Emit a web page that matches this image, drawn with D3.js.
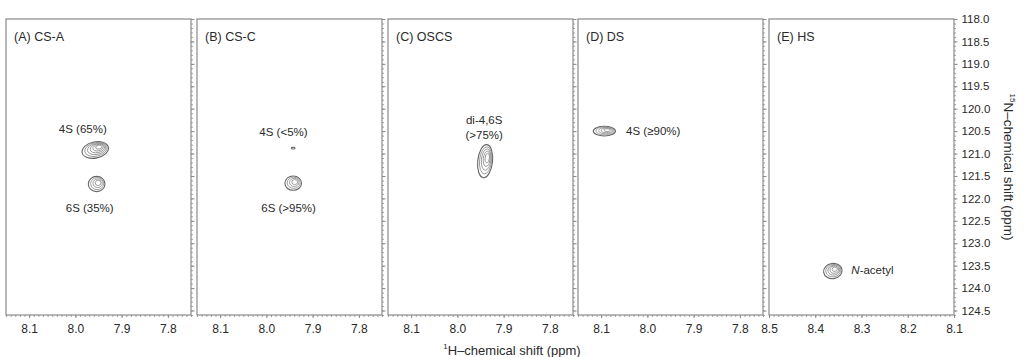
<!DOCTYPE html>
<html>
<head>
<meta charset="utf-8">
<script src="https://cdn.jsdelivr.net/npm/d3@7"></script>
<style>
  html, body { margin: 0; padding: 0; background: #fff; }
  svg { display: block; font-family: "Liberation Sans", Arial, sans-serif; }
</style>
</head>
<body>
<div id="container"></div>
<script>
const width = 1024;
const height = 357;

// panels and their 1H windows (ppm, left -> right)
const panelNames = ["(A) CS-A", "(B) CS-C", "(C) OSCS", "(D) DS", "(E) HS"];
const hDomains = [[8.15, 7.75], [8.15, 7.75], [8.15, 7.75], [8.15, 7.75], [8.5, 8.1]];
const hTicks = [[8.1, 8.0, 7.9, 7.8], [8.1, 8.0, 7.9, 7.8], [8.1, 8.0, 7.9, 7.8], [8.1, 8.0, 7.9, 7.8], [8.5, 8.4, 8.3, 8.2, 8.1]];
const nDomain = [118.0, 124.6];
const nTicks = [118.0, 118.5, 119.0, 119.5, 120.0, 120.5, 121.0, 121.5, 122.0, 122.5, 123.0, 123.5, 124.0, 124.5];

// peaks: panel, 1H ppm, 15N ppm, half widths (ppm), contour rings, tilt
const peakPanel = [0, 0, 1, 1, 2, 3, 4];
const peakH     = [7.957, 7.954, 7.942, 7.942, 7.940, 8.093, 8.362];
const peakN     = [120.92, 121.68, 120.88, 121.66, 121.17, 120.50, 123.62];
const peakWH    = [0.029, 0.018, 0.004, 0.018, 0.016, 0.024, 0.020];
const peakWN    = [0.18, 0.17, 0.02, 0.16, 0.37, 0.11, 0.17];
const peakRings = [6, 4, 1, 4, 5, 5, 5];
const peakTilt  = [-12, 0, 0, 0, 6, 0, -8];

// labels: panel, text lines, 1H ppm, 15N ppm, anchor
const labelPanel = [0, 0, 1, 1, 2, 3, 4];
const labelText  = [["4S (65%)"], ["6S (35%)"], ["4S (<5%)"], ["6S (>95%)"], ["di-4,6S", "(>75%)"], ["4S (\u226590%)"], ["N-acetyl"]];
const labelH     = [7.984, 7.969, 7.963, 7.952, 7.942, 8.046, 8.322];
const labelN     = [120.47, 122.23, 120.55, 122.23, 120.28, 120.51, 123.62];
const labelAnchor = ["middle", "middle", "middle", "middle", "middle", "start", "start"];

const panelLeft = [6, 197, 388, 578, 769];
const panelW = 185;
const plotTop = 19, plotBottom = 315;
const frameColor = "#8a8a8a";
const textColor = "#2a2a2a";

const svg = d3.create("svg")
  .attr("width", width)
  .attr("height", height);

const y = d3.scaleLinear().domain(nDomain).range([plotTop, plotBottom]);

panelNames.forEach((name, i) => {
  const x = d3.scaleLinear().domain(hDomains[i]).range([panelLeft[i], panelLeft[i] + panelW]);
  const g = svg.append("g").attr("class", "panel");

  // minor ticks bottom (0.01 ppm)
  const minorH = d3.range(Math.round(hDomains[i][1] * 100), Math.round(hDomains[i][0] * 100) + 1).map(v => v / 100);
  g.append("g")
    .attr("transform", `translate(0,${plotBottom})`)
    .call(d3.axisBottom(x).tickValues(minorH).tickSize(2).tickFormat(""))
    .call(a => a.select(".domain").remove())
    .selectAll("line").attr("stroke", frameColor).attr("stroke-width", 0.8);

  g.append("g")
    .attr("transform", `translate(0,${plotBottom})`)
    .call(d3.axisBottom(x).tickValues(hTicks[i]).tickSize(3).tickPadding(6).tickFormat(d3.format(".1f")))
    .call(a => a.select(".domain").remove())
    .call(a => a.selectAll("line").attr("stroke", frameColor))
    .call(a => a.selectAll("text").attr("fill", textColor).attr("font-size", "12px")
      .attr("font-family", "Liberation Sans, Arial, sans-serif"));

  // right ticks
  const minorN = d3.range(Math.round(nDomain[0] * 10), Math.round(nDomain[1] * 10) + 1).map(v => v / 10);
  const xr = panelLeft[i] + panelW;
  g.append("g")
    .attr("transform", `translate(${xr},0)`)
    .call(d3.axisRight(y).tickValues(minorN).tickSize(2).tickFormat(""))
    .call(a => a.select(".domain").remove())
    .selectAll("line").attr("stroke", frameColor).attr("stroke-width", 0.8);

  const ra = g.append("g")
    .attr("transform", `translate(${xr},0)`)
    .call(d3.axisRight(y).tickValues(nTicks).tickSize(3.5).tickPadding(4)
      .tickFormat(i === 4 ? d3.format(".1f") : ""))
    .call(a => a.select(".domain").remove())
    .call(a => a.selectAll("line").attr("stroke", frameColor));
  ra.selectAll("text").attr("fill", textColor).attr("font-size", "11.5px")
    .attr("font-family", "Liberation Sans, Arial, sans-serif");

  // frame
  g.append("rect")
    .attr("x", panelLeft[i]).attr("y", plotTop)
    .attr("width", panelW).attr("height", plotBottom - plotTop)
    .attr("fill", "none").attr("stroke", frameColor).attr("stroke-width", 1.2);

  g.append("text")
    .attr("x", panelLeft[i] + 8).attr("y", 41)
    .attr("fill", textColor).attr("font-size", "12.5px")
    .text(name);

  // contour peaks
  peakPanel.forEach((p, k) => {
    if (p !== i) return;
    const cx = x(peakH[k]), cy = y(peakN[k]);
    const rx = Math.abs(x(peakH[k] + peakWH[k]) - cx);
    const ry = Math.abs(y(peakN[k] + peakWN[k]) - cy);
    const pg = g.append("g").attr("transform", `translate(${cx},${cy}) rotate(${peakTilt[k]})`);
    const rings = d3.range(peakRings[k]);
    pg.selectAll("ellipse")
      .data(rings)
      .enter()
      .append("ellipse")
      .attr("cx", r => r * rx * 0.06)
      .attr("cy", r => -r * ry * 0.05)
      .attr("rx", r => Math.max(rx * (1 - r / (peakRings[k] + 0.6)), 0.8))
      .attr("ry", r => Math.max(ry * (1 - r / (peakRings[k] + 0.6)), 0.6))
      .attr("fill", "none")
      .attr("stroke", r => r === 0 ? "#666" : "#888")
      .attr("stroke-width", r => r === 0 ? 1.1 : 0.8);
  });

  // peak labels
  labelPanel.forEach((p, k) => {
    if (p !== i) return;
    const t = g.append("text")
      .attr("x", x(labelH[k]))
      .attr("y", y(labelN[k]))
      .attr("text-anchor", labelAnchor[k])
      .attr("dominant-baseline", "middle")
      .attr("fill", textColor)
      .attr("font-size", "11.5px");
    labelText[k].forEach((line, li) => {
      const ts = t.append("tspan").attr("x", x(labelH[k])).attr("dy", li === 0 ? 0 : "1.25em");
      if (line.startsWith("N-")) {
        ts.append("tspan").attr("font-style", "italic").text("N");
        ts.append("tspan").text(line.slice(1));
      } else {
        ts.text(line);
      }
    });
  });
});

// axis titles
const xTitle = svg.append("text")
  .attr("x", 512).attr("y", 353)
  .attr("text-anchor", "middle")
  .attr("fill", textColor)
  .attr("font-size", "13px");
xTitle.append("tspan").attr("font-size", "8px").attr("dy", "-0.45em").text("1");
xTitle.append("tspan").attr("dy", "0.45em").text("H\u2013chemical shift (ppm)");

const yTitle = svg.append("text")
  .attr("transform", `translate(1006,${(plotTop + plotBottom) / 2}) rotate(90)`)
  .attr("text-anchor", "middle")
  .attr("fill", textColor)
  .attr("font-size", "13.5px");
yTitle.append("tspan").attr("font-size", "8px").attr("dy", "-0.45em").text("15");
yTitle.append("tspan").attr("dy", "0.45em").text("N\u2013chemical shift (ppm)");

d3.select("#container").append(() => svg.node());
</script>
</body>
</html>
